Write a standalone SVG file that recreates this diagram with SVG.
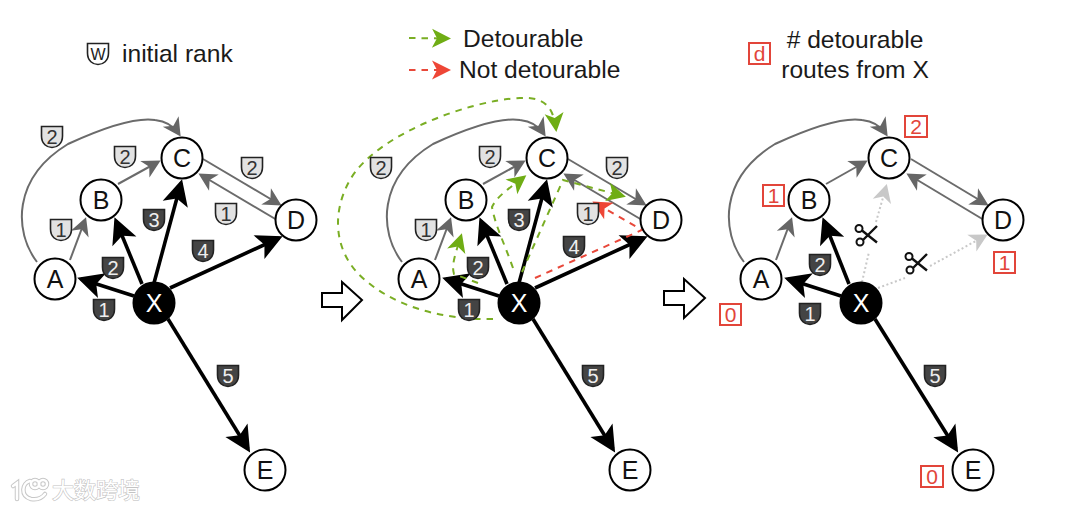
<svg xmlns="http://www.w3.org/2000/svg" width="1080" height="510" viewBox="0 0 1080 510">
<style>
text{font-family:"Liberation Sans",Arial,sans-serif;}
.lbl{font-size:24.6px;fill:#1a1a1a;}
.mid{text-anchor:middle;}
.n circle{fill:#fff;stroke:#000;stroke-width:2;}
.n text{font-size:25px;text-anchor:middle;fill:#111;}
.x circle{fill:#000;stroke:#000;}
.x text{fill:#fff;}
.k{fill:none;stroke:#000;stroke-width:3.6;marker-end:url(#mk);}
.g{fill:none;stroke:#6b6b6b;stroke-width:2;marker-end:url(#mg);}
.d{fill:none;stroke:#c8c8c8;stroke-width:2;stroke-dasharray:2 2.5;}
.da{marker-end:url(#ml);}
.gr{fill:none;stroke:#7aae24;stroke-width:2;stroke-dasharray:6.5 6;marker-end:url(#mgr);}
.rd{fill:none;stroke:#e8483a;stroke-width:2;stroke-dasharray:6.5 6;marker-end:url(#mrd);}
.s use{stroke:#222;stroke-width:1.6;}
.s text{font-size:20px;text-anchor:middle;}
.li use{fill:#e2e2e2;}
.li text{fill:#333;}
.dk use{fill:#444;}
.dk text{fill:#eee;}
.w use{fill:#fff;}
.r rect{fill:#fff;stroke:#e2453a;stroke-width:2;}
.r text{font-size:21px;text-anchor:middle;fill:#e2453a;}
.arr{fill:#fff;stroke:#000;stroke-width:2;}
.sc circle{fill:none;stroke:#111;stroke-width:2;}
.sc path{fill:none;stroke:#111;stroke-width:2.4;}
.wm{font-family:"Noto Sans CJK SC","Liberation Sans",sans-serif;font-size:22px;fill:#fff;stroke:#c4c4c4;stroke-width:1.2;paint-order:stroke;}
.wo{fill:none;stroke:#c8c8c8;stroke-width:4.5;stroke-linecap:round;}
.wi{fill:none;stroke:#fff;stroke-width:2.5;stroke-linecap:round;}
</style>
<defs>
<marker id="mk" markerUnits="userSpaceOnUse" markerWidth="34" markerHeight="34" viewBox="0 0 34 34" refX="27" refY="17" orient="auto"><path d="M31,17 L5,4 L11,17 L5,30 Z" fill="#000"/></marker>
<marker id="mg" markerUnits="userSpaceOnUse" markerWidth="26" markerHeight="26" viewBox="0 0 26 26" refX="20" refY="13" orient="auto"><path d="M23,13 L5,3.500 L10,13 L5,22.500 Z" fill="#666"/></marker>
<marker id="ml" markerUnits="userSpaceOnUse" markerWidth="26" markerHeight="26" viewBox="0 0 26 26" refX="20" refY="13" orient="auto"><path d="M23,13 L5,3.500 L10,13 L5,22.500 Z" fill="#c8c8c8"/></marker>
<marker id="mgr" markerUnits="userSpaceOnUse" markerWidth="26" markerHeight="26" viewBox="0 0 26 26" refX="20" refY="13" orient="auto"><path d="M23,13 L4,3.500 L9,13 L4,22.500 Z" fill="#6fad14"/></marker>
<marker id="mrd" markerUnits="userSpaceOnUse" markerWidth="26" markerHeight="26" viewBox="0 0 26 26" refX="20" refY="13" orient="auto"><path d="M23,13 L4,3.500 L9,13 L4,22.500 Z" fill="#ee4636"/></marker>
<path id="sh" d="M-10.500,-10.500 H10.500 V-1 C10.500,7 5,10.500 0,10.500 C-5,10.500 -10.500,7 -10.500,-1 Z"/>
</defs>

<g id="connectors">
  <g id="connectors-1">
    <path class="g" d="M37,262 C14,232 12,178 68,144 C105,127 135,117 155,120 C165,121 173,125 179,134"/>
    <path class="g" d="M70,260 L85,220"/>
    <path class="g" d="M118,184 L158,162"/>
    <path class="g" d="M203,159 L279,204"/>
    <path class="g" d="M277,220 L201,175"/>
    <path class="k" d="M134,296 L81,279"/>
    <path class="k" d="M142,284 L116,221"/>
    <path class="k" d="M154,283 L181,183"/>
    <path class="k" d="M170,288 L279,238"/>
    <path class="k" d="M168,319 L248,449"/>
  </g>
  <g id="connectors-2">
    <path class="g" d="M402,262 C379,232 377,178 433,144 C470,127 500,117 520,120 C530,121 538,125 544,134"/>
    <path class="g" d="M435,260 L450,220"/>
    <path class="g" d="M483,184 L523,162"/>
    <path class="g" d="M568,159 L644,204"/>
    <path class="g" d="M642,220 L566,175"/>
    <path class="k" d="M499,296 L446,279"/>
    <path class="k" d="M507,284 L481,221"/>
    <path class="k" d="M519,283 L546,183"/>
    <path class="k" d="M535,288 L644,238"/>
    <path class="k" d="M533,319 L613,449"/>
    <path class="gr" d="M493,319 C450,320 400,310 365,280 C335,255 330,215 350,180 C375,135 470,100 520,98 C542,97 553,104 556,129"/>
    <path class="gr" d="M478,283 L454,274 C451,265 456,252 461,236"/>
    <path class="gr" d="M513,268 C505,245 495,225 492,207 C498,195 510,188 524,177"/>
    <path class="gr" d="M522,272 L563,180 L623,196"/>
    <path class="rd" d="M535,278 L642,230 L595,203"/>
  </g>
  <g id="connectors-3">
    <path class="g" d="M744,262 C721,232 719,178 775,144 C812,127 842,117 862,120 C872,121 880,125 886,134"/>
    <path class="g" d="M776,260 L791,220"/>
    <path class="g" d="M826,184 L865,162"/>
    <path class="g" d="M911,159 L986,204"/>
    <path class="g" d="M984,220 L909,175"/>
    <path class="k" d="M841,296 L788,279"/>
    <path class="k" d="M849,284 L824,221"/>
    <path class="k" d="M875,319 L956,449"/>
    <path class="d" d="M862,282 L869,252"/>
    <path class="d da" d="M876,222 L886,187"/>
    <path class="d" d="M878,288 L905,278"/>
    <path class="d da" d="M930,266 L985,236"/>
  </g>
  <g id="legend-arrows">
    <path class="gr" d="M409,38 L448,38.500"/>
    <path class="rd" d="M409,70 L448,70"/>
  </g>
</g>

<g id="flow-arrows">
  <polygon class="arr" points="322,293 342,293 342,282 362,300 342,320 342,307 322,307"/>
  <polygon class="arr" points="664,291 684,291 684,279 705,298 684,318 684,305 664,305"/>
</g>

<g id="nodes-1">
  <g id="p1-A" class="n"><circle cx="55" cy="279" r="20.500"/><text x="55" y="288">A</text></g>
  <g id="p1-B" class="n"><circle cx="101" cy="200" r="20.500"/><text x="101" y="209">B</text></g>
  <g id="p1-C" class="n"><circle cx="182" cy="158" r="20.500"/><text x="182" y="167">C</text></g>
  <g id="p1-D" class="n"><circle cx="296" cy="220" r="20.500"/><text x="296" y="229">D</text></g>
  <g id="p1-E" class="n"><circle cx="265" cy="470" r="20.500"/><text x="265" y="479">E</text></g>
  <g id="p1-X" class="n x"><circle cx="154" cy="303" r="20.500"/><text x="154" y="312">X</text></g>
</g>
<g id="nodes-2">
  <g id="p2-A" class="n"><circle cx="419" cy="279" r="20.500"/><text x="419" y="288">A</text></g>
  <g id="p2-B" class="n"><circle cx="466" cy="200" r="20.500"/><text x="466" y="209">B</text></g>
  <g id="p2-C" class="n"><circle cx="547" cy="158" r="20.500"/><text x="547" y="167">C</text></g>
  <g id="p2-D" class="n"><circle cx="661" cy="220" r="20.500"/><text x="661" y="229">D</text></g>
  <g id="p2-E" class="n"><circle cx="630" cy="470" r="20.500"/><text x="630" y="479">E</text></g>
  <g id="p2-X" class="n x"><circle cx="519" cy="303" r="20.500"/><text x="519" y="312">X</text></g>
</g>
<g id="nodes-3">
  <g id="p3-A" class="n"><circle cx="761" cy="279" r="20.500"/><text x="761" y="288">A</text></g>
  <g id="p3-B" class="n"><circle cx="809" cy="200" r="20.500"/><text x="809" y="209">B</text></g>
  <g id="p3-C" class="n"><circle cx="889" cy="158" r="20.500"/><text x="889" y="167">C</text></g>
  <g id="p3-D" class="n"><circle cx="1003" cy="220" r="20.500"/><text x="1003" y="229">D</text></g>
  <g id="p3-E" class="n"><circle cx="973" cy="470" r="20.500"/><text x="973" y="479">E</text></g>
  <g id="p3-X" class="n x"><circle cx="861" cy="303" r="20.500"/><text x="861" y="312">X</text></g>
</g>

<g id="ranks-1">
  <g class="s li" transform="translate(52,137)"><use href="#sh"/><text y="7">2</text></g>
  <g class="s li" transform="translate(125,157)"><use href="#sh"/><text y="7">2</text></g>
  <g class="s li" transform="translate(61,230)"><use href="#sh"/><text y="7">1</text></g>
  <g class="s li" transform="translate(252,168)"><use href="#sh"/><text y="7">2</text></g>
  <g class="s li" transform="translate(226,214)"><use href="#sh"/><text y="7">1</text></g>
  <g class="s dk" transform="translate(154,220)"><use href="#sh"/><text y="7">3</text></g>
  <g class="s dk" transform="translate(203,251)"><use href="#sh"/><text y="7">4</text></g>
  <g class="s dk" transform="translate(113,268)"><use href="#sh"/><text y="7">2</text></g>
  <g class="s dk" transform="translate(104,310)"><use href="#sh"/><text y="7">1</text></g>
  <g class="s dk" transform="translate(228,376)"><use href="#sh"/><text y="7">5</text></g>
</g>
<g id="ranks-2">
  <g class="s li" transform="translate(381,168)"><use href="#sh"/><text y="7">2</text></g>
  <g class="s li" transform="translate(490,157)"><use href="#sh"/><text y="7">2</text></g>
  <g class="s li" transform="translate(426,230)"><use href="#sh"/><text y="7">1</text></g>
  <g class="s li" transform="translate(617,168)"><use href="#sh"/><text y="7">2</text></g>
  <g class="s li" transform="translate(588,214)"><use href="#sh"/><text y="7">1</text></g>
  <g class="s dk" transform="translate(519,220)"><use href="#sh"/><text y="7">3</text></g>
  <g class="s dk" transform="translate(574,247)"><use href="#sh"/><text y="7">4</text></g>
  <g class="s dk" transform="translate(478,268)"><use href="#sh"/><text y="7">2</text></g>
  <g class="s dk" transform="translate(469,310)"><use href="#sh"/><text y="7">1</text></g>
  <g class="s dk" transform="translate(593,376)"><use href="#sh"/><text y="7">5</text></g>
</g>
<g id="ranks-3">
  <g class="s dk" transform="translate(820,265)"><use href="#sh"/><text y="7">2</text></g>
  <g class="s dk" transform="translate(810,314)"><use href="#sh"/><text y="7">1</text></g>
  <g class="s dk" transform="translate(935,376)"><use href="#sh"/><text y="7">5</text></g>
</g>

<g id="counts">
  <g class="r"><rect x="905" y="116" width="22" height="21"/><text x="916" y="134">2</text></g>
  <g class="r"><rect x="763" y="185" width="21" height="21"/><text x="773.500" y="203">1</text></g>
  <g class="r"><rect x="994" y="252" width="21" height="21"/><text x="1004.500" y="270">1</text></g>
  <g class="r"><rect x="720" y="304" width="21" height="21"/><text x="730.500" y="322">0</text></g>
  <g class="r"><rect x="921" y="466" width="22" height="21"/><text x="932" y="484">0</text></g>
  <g class="r"><rect x="749" y="43" width="21" height="21"/><text x="759.500" y="61">d</text></g>
</g>

<g id="scissors">
  <g class="sc" transform="translate(866,235)"><circle cx="-7" cy="-6.500" r="3.500"/><circle cx="-6" cy="7" r="3.500"/><path d="M-4,-4.500 L11,7.500 M-3,5 L11,-9"/></g>
  <g class="sc" transform="translate(916,263)"><circle cx="-7" cy="-6.500" r="3.500"/><circle cx="-6" cy="7" r="3.500"/><path d="M-4,-4.500 L11,7.500 M-3,5 L11,-9"/></g>
</g>

<g id="legend">
  <g id="legend-rank" class="s w" transform="translate(98,54)"><use href="#sh"/><text y="5.500" style="font-size:16px;fill:#222">W</text></g>
  <text class="lbl" x="122" y="62">initial rank</text>
  <text class="lbl" x="463" y="47">Detourable</text>
  <text class="lbl" x="459" y="78">Not detourable</text>
  <text class="lbl mid" x="855" y="48"># detourable</text>
  <text class="lbl mid" x="855" y="78">routes from X</text>
</g>

<g id="watermark">
  <path class="wo" d="M13,486 L17,483 V499 M30,481 C22,483 20,496 31,499 C37,500 42,498 45,494"/>
  <circle class="wo" cx="35" cy="484" r="4"/><circle class="wo" cx="43" cy="484" r="4"/>
  <path class="wi" d="M13,486 L17,483 V499 M30,481 C22,483 20,496 31,499 C37,500 42,498 45,494"/>
  <circle class="wi" cx="35" cy="484" r="4"/><circle class="wi" cx="43" cy="484" r="4"/>
  <text class="wm" x="52" y="498">大数跨境</text>
</g>
</svg>
